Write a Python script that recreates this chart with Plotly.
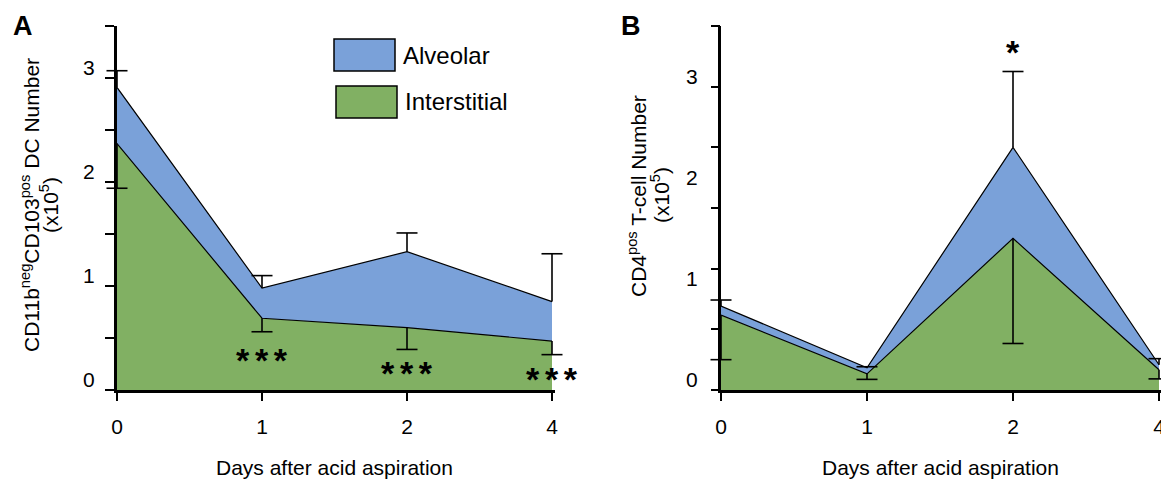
import plotly.graph_objects as go

W, H = 1161, 480

# ---------------- data ----------------
day_labels = ["0", "1", "2", "4"]
day_index = [0, 1, 2, 3]

# Panel A: CD11b(neg)CD103(pos) DC number (x10^5)
a_interstitial = [2.37, 0.69, 0.60, 0.47]
a_alveolar = [0.54, 0.29, 0.73, 0.38]          # stacked on top of interstitial
a_alveolar_err = [0.16, 0.12, 0.18, 0.46]      # upper error of the stacked total
a_interstitial_err = [0.43, 0.13, 0.21, 0.13]  # lower error of interstitial
a_sig_text = ["***", "***", "***"]
a_sig_x = [1, 2, 3]
a_sig_y = [0.34, 0.21, 0.15]

# Panel B: CD4(pos) T-cell number (x10^5)
b_interstitial = [0.74, 0.16, 1.50, 0.20]
b_alveolar = [0.09, 0.06, 0.90, 0.05]
b_alveolar_err = [0.06, 0.01, 0.75, 0.06]
b_interstitial_err = [0.44, 0.055, 1.04, 0.09]
b_sig_text = ["*"]
b_sig_x = [2]
b_sig_y = [3.39]

a_ylabels = [0, 1, 2, 3]
a_minor_step = 0.5
b_ylabels = [0, 1, 2, 3]
b_yticks = [0, 0.6, 1.2, 1.8, 2.4, 3.0, 3.6]

BLUE = "#7aa1d9"
GREEN = "#81b063"
FONT = "Liberation Sans, Arial, Helvetica, sans-serif"


def px_x(x):
    return min(1.0, x / W)


def px_y(y):
    return 1 - y / H


fig = go.Figure()


def add_panel(xa, ya, inter, alv, alv_err, inter_err):
    total = [i + a for i, a in zip(inter, alv)]
    fig.add_trace(go.Scatter(x=day_index, y=inter, mode="lines", fill="tozeroy",
                             fillcolor=GREEN, line=dict(color="black", width=1.2),
                             xaxis=xa, yaxis=ya, showlegend=False, name="Interstitial"))
    fig.add_trace(go.Scatter(x=day_index, y=total, mode="lines", fill="tonexty",
                             fillcolor=BLUE, line=dict(color="black", width=1.2),
                             xaxis=xa, yaxis=ya, showlegend=False, name="Alveolar"))
    # error bar stems
    fig.add_trace(go.Scatter(x=day_index, y=total, mode="markers",
                             marker=dict(size=1, opacity=0),
                             error_y=dict(type="data", symmetric=False, array=alv_err,
                                          arrayminus=[0] * len(alv_err), width=0,
                                          thickness=1.6, color="black"),
                             xaxis=xa, yaxis=ya, showlegend=False, cliponaxis=False))
    fig.add_trace(go.Scatter(x=day_index, y=inter, mode="markers",
                             marker=dict(size=1, opacity=0),
                             error_y=dict(type="data", symmetric=False, array=[0] * len(inter_err),
                                          arrayminus=inter_err, width=0,
                                          thickness=1.6, color="black"),
                             xaxis=xa, yaxis=ya, showlegend=False, cliponaxis=False))
    # error bar caps
    caps_y = [t + e for t, e in zip(total, alv_err)] + [i - e for i, e in zip(inter, inter_err)]
    fig.add_trace(go.Scatter(x=day_index + day_index, y=caps_y, mode="markers",
                             marker=dict(symbol="line-ew", size=15,
                                         line=dict(color="black", width=1.6)),
                             xaxis=xa, yaxis=ya, showlegend=False, cliponaxis=False))


add_panel("x", "y", a_interstitial, a_alveolar, a_alveolar_err, a_interstitial_err)
add_panel("x2", "y2", b_interstitial, b_alveolar, b_alveolar_err, b_interstitial_err)
# dummy trace so the overlay tick axis of panel B is drawn
fig.add_trace(go.Scatter(x=[None], y=[None], xaxis="x2", yaxis="y3", showlegend=False))

ydom = [px_y(390), px_y(26)]
xa_dom = [px_x(117), px_x(117 + 3.02 * 145)]
xb_dom = [px_x(721), 1.0]
xb_end = (W - 721) / 146.0

tickfont = dict(family=FONT, size=21, color="black")

xcommon = dict(tickmode="array", tickvals=day_index, ticktext=day_labels,
               showline=True, linewidth=3, linecolor="black", automargin=False,
               ticks="outside", ticklen=8, tickwidth=2, tickcolor="black",
               ticklabeloverflow="allow",
               tickfont=tickfont, ticklabelstandoff=8, showgrid=False, zeroline=False)

fig.update_layout(
    width=W, height=H,
    margin=dict(l=0, r=0, t=0, b=0, autoexpand=False),
    paper_bgcolor="white", plot_bgcolor="white",
    font=dict(family=FONT, color="black"),
    showlegend=False,
    xaxis=dict(domain=xa_dom, anchor="y", range=[0, 3.02], **xcommon),
    xaxis2=dict(domain=xb_dom, anchor="y2", range=[0, xb_end], **xcommon),
    yaxis=dict(domain=ydom, anchor="x", range=[0, 3.5], tickmode="array",
               tickvals=a_ylabels, ticktext=[str(v) for v in a_ylabels],
               minor=dict(tickmode="linear", tick0=0, dtick=a_minor_step, ticks="outside",
                          ticklen=9, tickwidth=2, tickcolor="black"),
               showline=True, linewidth=3, automargin=False,
               linecolor="black", ticks="outside", ticklen=9, tickwidth=2,
               tickcolor="black", tickfont=tickfont, ticklabelstandoff=6,
               ticklabelshift=-10, showgrid=False, zeroline=False),
    yaxis2=dict(domain=ydom, anchor="x2", range=[0, 3.6], tickmode="array",
                tickvals=b_ylabels, ticktext=[str(v) for v in b_ylabels], showline=True,
                linewidth=3, linecolor="black", ticks="outside", ticklen=9, automargin=False,
                tickcolor="rgba(0,0,0,0)", tickfont=tickfont, ticklabelstandoff=7,
                ticklabelshift=-10, showgrid=False, zeroline=False),
    yaxis3=dict(domain=ydom, anchor="x2", overlaying="y2", range=[0, 3.6],
                tickmode="array", tickvals=b_yticks, showticklabels=False, automargin=False,
                showline=False, ticks="outside", ticklen=9, tickwidth=2,
                tickcolor="black", showgrid=False, zeroline=False),
)


def paper_text(text, x, y, size, bold=False, angle=0, xanchor="center"):
    return dict(text=("<b>%s</b>" % text) if bold else text, x=px_x(x), y=px_y(y),
                xref="paper", yref="paper", xanchor=xanchor, yanchor="middle",
                showarrow=False, textangle=angle,
                font=dict(family=FONT, size=size, color="black"))


ann = []
# panel letters
ann.append(paper_text("A", 23, 26, 27, bold=True))
ann.append(paper_text("B", 631, 26, 27, bold=True))
# x titles
for cx in (334, 940):
    ann.append(paper_text("Days after acid aspiration", cx, 467, 21))
# y titles
ann.append(paper_text("CD11b<sup>neg</sup>CD103<sup>pos</sup> DC Number", 30, 205, 21, angle=-90))
ann.append(paper_text("(x10<sup>5</sup>)", 49, 205, 21, angle=-90))
ann.append(paper_text("CD4<sup>pos</sup> T-cell Number", 637, 196, 21, angle=-90))
ann.append(paper_text("(x10<sup>5</sup>)", 660, 195, 21, angle=-90))
# legend labels
ann.append(paper_text("Alveolar", 401, 55, 24, xanchor="left"))
ann.append(paper_text("Interstitial", 403, 101, 24, xanchor="left"))

# significance stars
STAR_FONT = dict(family=FONT, size=34, color="black")
for t, x, y in zip(a_sig_text, a_sig_x, a_sig_y):
    ann.append(dict(text="<b>" + "\u2006".join(t) + "</b>", x=x, y=y, xref="x", yref="y",
                    xanchor="center", yanchor="middle",
                    showarrow=False, yshift=-5, font=STAR_FONT))
for t, x, y in zip(b_sig_text, b_sig_x, b_sig_y):
    ann.append(dict(text="<b>" + t + "</b>", x=x, y=y, xref="x2", yref="y2",
                    xanchor="center", yanchor="middle",
                    showarrow=False, yshift=-5, font=STAR_FONT))

shapes = [
    dict(type="rect", xref="paper", yref="paper", x0=px_x(334), x1=px_x(395),
         y0=px_y(71), y1=px_y(39), fillcolor=BLUE, line=dict(color="black", width=1.5)),
    dict(type="rect", xref="paper", yref="paper", x0=px_x(336), x1=px_x(397),
         y0=px_y(118), y1=px_y(86), fillcolor=GREEN, line=dict(color="black", width=1.5)),
]

fig.update_layout(annotations=ann, shapes=shapes)
fig.write_html("out.html", config={"displayModeBar": False},
               post_script="document.body.style.margin='0px';document.body.style.overflow='hidden';")
